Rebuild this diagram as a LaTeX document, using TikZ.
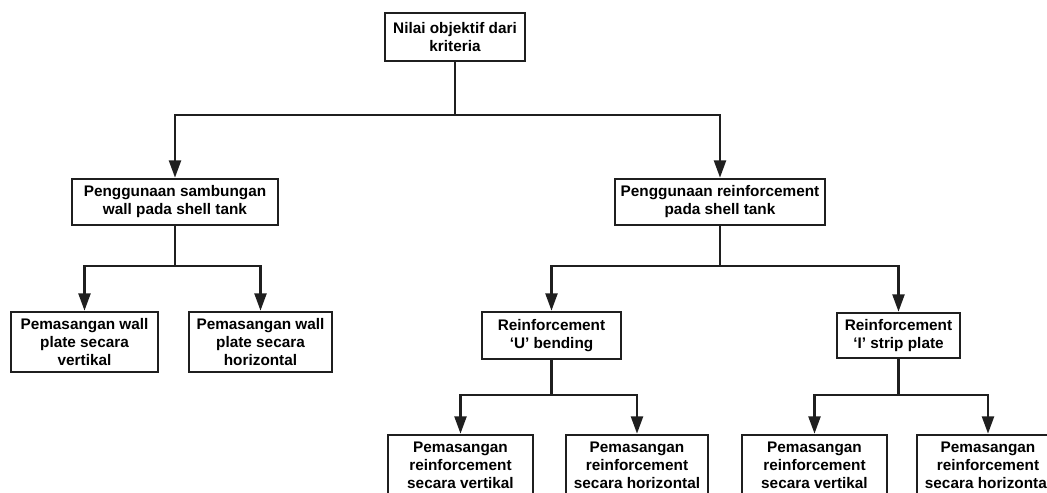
\documentclass[tikz,border=0pt]{standalone}
\usepackage{fontspec}
\setmainfont{Liberation Sans}
\usetikzlibrary{arrows.meta}
\begin{document}
\begin{tikzpicture}[x=0.75pt,y=-0.75pt,
  box/.style={draw=black!88, line width=2pt, fill=white, inner sep=0pt,
    align=center, font=\fontsize{11.5}{13.5}\selectfont\bfseries},
  link/.style={draw=black!88, line width=1.75pt,
    -{Triangle[length=13pt,width=9pt]}},
  stem/.style={draw=black!88, line width=1.75pt}]
\useasboundingbox (0,0) rectangle (1047,493);
\clip (0,0) rectangle (1047,493);
\fill[white] (0,0) rectangle (1047,493);

% root
\node[box, minimum width=105pt, minimum height=36pt] (top) at (455,37)
  {Nilai objektif dari\\kriteria};

% second level
\node[box, minimum width=154.5pt, minimum height=34.5pt] (wall) at (175,202)
  {Penggunaan sambungan\\wall pada shell tank};
\node[box, minimum width=157.5pt, minimum height=34.5pt] (reinf) at (720,202)
  {Penggunaan reinforcement\\pada shell tank};

% wall joint options
\node[box, minimum width=110.25pt, minimum height=45pt] (wv) at (84.5,342)
  {Pemasangan wall\\plate secara\\vertikal};
\node[box, minimum width=107.25pt, minimum height=45pt] (wh) at (260.5,342)
  {Pemasangan wall\\plate secara\\horizontal};

% reinforcement types
\node[box, minimum width=104.25pt, minimum height=35.25pt] (ub) at (551.5,335.5)
  {Reinforcement\\`U' bending};
\node[box, minimum width=92.25pt, minimum height=33.75pt] (is) at (898.5,335.5)
  {Reinforcement\\`I' strip plate};

% reinforcement placement
\node[box, minimum width=108.75pt, minimum height=45pt] (uv) at (460.5,465)
  {Pemasangan\\reinforcement\\secara vertikal};
\node[box, minimum width=106.5pt, minimum height=45pt] (uh) at (637,465)
  {Pemasangan\\reinforcement\\secara horizontal};
\node[box, minimum width=108.75pt, minimum height=45pt] (iv) at (814.5,465)
  {Pemasangan\\reinforcement\\secara vertikal};
\node[box, minimum width=106.5pt, minimum height=45pt] (ih) at (988,465)
  {Pemasangan\\reinforcement\\secara horizontal};

% branch points
\coordinate (j0) at (455,115);
\coordinate (j1) at (175,266);
\coordinate (j2) at (720,266);
\coordinate (j3) at (551.5,395);
\coordinate (j4) at (898.5,395);

\draw[stem] (top.south) -- (j0);
\draw[link] (j0) -| (wall.north);
\draw[link] (j0) -| (reinf.north);

\draw[stem] (wall.south) -- (j1);
\draw[link] (j1) -| (wv.north);
\draw[link] (j1) -| (wh.north);

\draw[stem] (reinf.south) -- (j2);
\draw[link] (j2) -| (ub.north);
\draw[link] (j2) -| (is.north);

\draw[stem] (ub.south) -- (j3);
\draw[link] (j3) -| (uv.north);
\draw[link] (j3) -| (uh.north);

\draw[stem] (is.south) -- (j4);
\draw[link] (j4) -| (iv.north);
\draw[link] (j4) -| (ih.north);
\end{tikzpicture}
\end{document}
